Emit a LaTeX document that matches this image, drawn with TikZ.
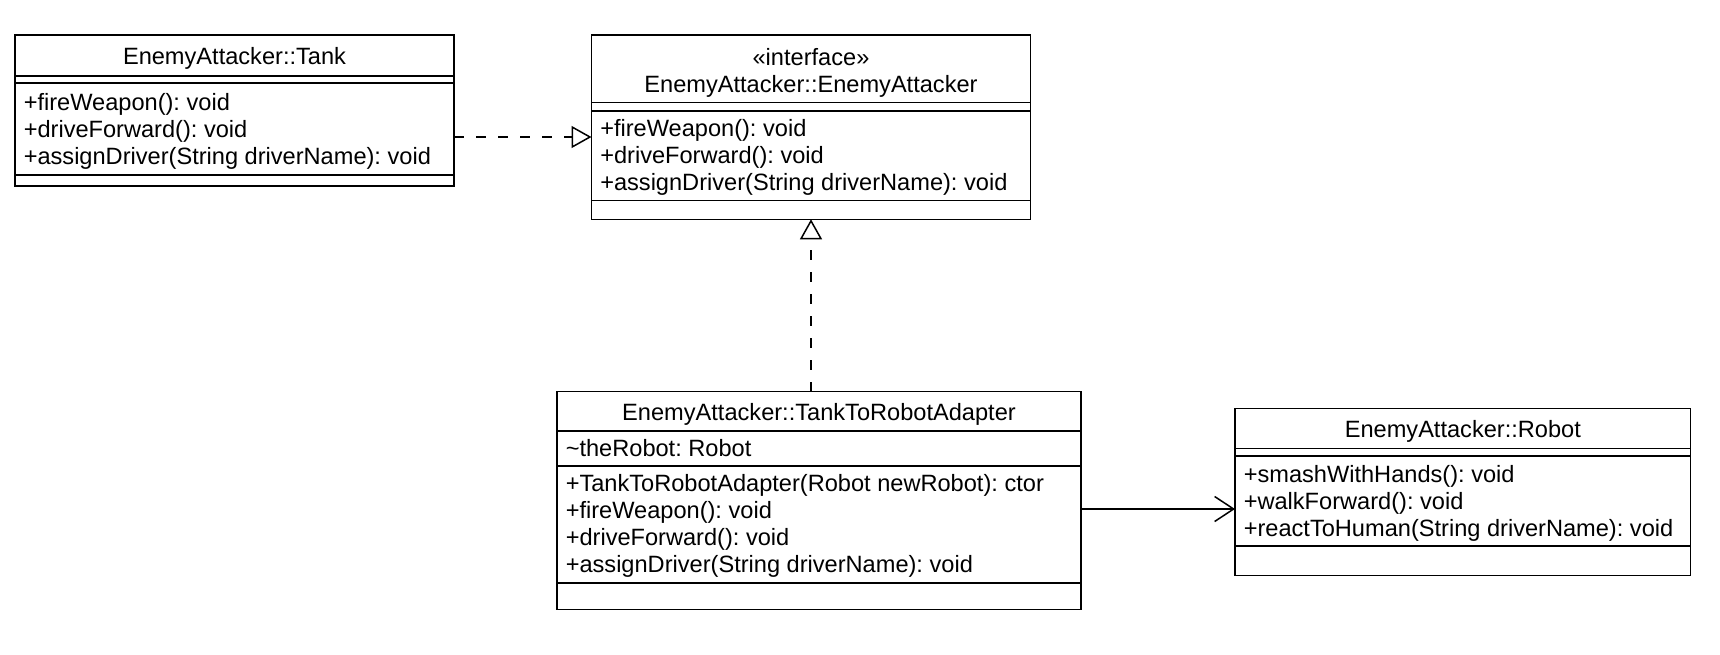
\documentclass[tikz,border=0pt]{standalone}
\usepackage{fontspec}
\setmainfont{Liberation Sans}
\usetikzlibrary{arrows.meta}
\tikzstyle{Realize}=[dash pattern=on 5pt off 6pt, -{Triangle[open, length=10pt, width=11pt]}]
\tikzstyle{Assoc}=[-{Straight Barb[length=9.5pt, width=12.5pt]}]
\frenchspacing

\begin{document}
\begin{tikzpicture}[
  x=0.5pt, y=-0.5pt,
  line width=0.75pt,
  font=\fontsize{11.8}{13.75}\selectfont,
  Box/.style={draw, anchor=north west, inner sep=0, outer sep=0},
  Title/.style={inner sep=0, align=center},
  Member/.style={anchor=west, inner xsep=4pt, inner ysep=0, text height=8.5pt, text depth=2.5pt}
]
\useasboundingbox (0,0) rectangle (1720,654);

\node[Box, minimum width=219.5pt, minimum height=75.5pt] (tank) at (15,35) {};
\node[Title] (tankT) at (tank.north |- 0,58) {EnemyAttacker::Tank};
\draw (tank.west |- 0,76) -- (tank.east |- 0,76)
      (tank.west |- 0,83) -- (tank.east |- 0,83)
      (tank.west |- 0,175) -- (tank.east |- 0,175);
\node[Member] (tank1) at (tank.west |- 0,104) {+fireWeapon(): void};
\node[Member] (tank2) at (tank.west |- 0,131) {+driveForward(): void};
\node[Member] (tank3) at (tank.west |- 0,158) {+assignDriver(String driverName): void};

\node[Box, minimum width=219.5pt, minimum height=92.15pt] (iface) at (591.5,35) {};
\node[Title] (ifaceT) at (iface.north |- 0,73) {«interface»\\EnemyAttacker::EnemyAttacker};
\draw (iface.west |- 0,102.7) -- (iface.east |- 0,102.7)
      (iface.west |- 0,111) -- (iface.east |- 0,111)
      (iface.west |- 0,200.7) -- (iface.east |- 0,200.7);
\node[Member] (iface1) at (iface.west |- 0,130.5) {+fireWeapon(): void};
\node[Member] (iface2) at (iface.west |- 0,157.5) {+driveForward(): void};
\node[Member] (iface3) at (iface.west |- 0,184.5) {+assignDriver(String driverName): void};

\node[Box, minimum width=262pt, minimum height=108.8pt] (adapter) at (557,391.7) {};
\node[Title] (adapterT) at (adapter.north |- 0,414) {EnemyAttacker::TankToRobotAdapter};
\draw (adapter.west |- 0,431) -- (adapter.east |- 0,431)
      (adapter.west |- 0,466) -- (adapter.east |- 0,466)
      (adapter.west |- 0,583) -- (adapter.east |- 0,583);
\node[Member] (adapterA) at (adapter.west |- 0,450) {\char`\~theRobot: Robot};
\node[Member] (adapter1) at (adapter.west |- 0,485) {+TankToRobotAdapter(Robot newRobot): ctor};
\node[Member] (adapter2) at (adapter.west |- 0,512) {+fireWeapon(): void};
\node[Member] (adapter3) at (adapter.west |- 0,539) {+driveForward(): void};
\node[Member] (adapter4) at (adapter.west |- 0,566) {+assignDriver(String driverName): void};

\node[Box, minimum width=227.85pt, minimum height=83.7pt] (robot) at (1235,408.3) {};
\node[Title] (robotT) at (robot.north |- 0,431) {EnemyAttacker::Robot};
\draw (robot.west |- 0,448.3) -- (robot.east |- 0,448.3)
      (robot.west |- 0,456) -- (robot.east |- 0,456)
      (robot.west |- 0,546) -- (robot.east |- 0,546);
\node[Member] (robot1) at (robot.west |- 0,476) {+smashWithHands(): void};
\node[Member] (robot2) at (robot.west |- 0,503) {+walkForward(): void};
\node[Member] (robot3) at (robot.west |- 0,530) {+reactToHuman(String driverName): void};

\draw[Realize] (tank.east |- 0,137) to (iface.west |- 0,137);
\draw[Realize] (adapter.north -| iface.south) to (iface.south);
\draw[Assoc] (adapter.east |- 0,509) to (robot.west |- 0,509);

\end{tikzpicture}
\end{document}
